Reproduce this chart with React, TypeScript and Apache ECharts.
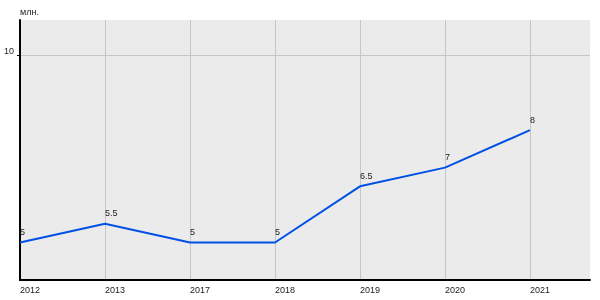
import React, { useEffect, useRef } from "react";
import * as echarts from "echarts";

const categories = ["2012", "2013", "2017", "2018", "2019", "2020", "2021"];
const values = [5, 5.5, 5, 5, 6.5, 7, 8];
const yTicks = [10];
const yUnit = "млн.";

const FONT = "Liberation Sans, Arial, sans-serif";

export default function App() {
  const ref = useRef<HTMLDivElement>(null);
  useEffect(() => {
    if (!ref.current) return;
    const chart = echarts.init(ref.current, null, { renderer: "svg" });
    const idx = categories.map((_, i) => i);
    chart.setOption({
      animation: false,
      textStyle: { fontFamily: FONT },
      grid: {
        left: 20,
        right: 10,
        top: 20,
        bottom: 20,
        show: true,
        backgroundColor: "#ebebeb",
        borderWidth: 0,
      },
      graphic: [
        {
          type: "text",
          left: 20,
          top: 7,
          style: { text: yUnit, fontSize: 9, fill: "#222", fontFamily: FONT },
        },
      ],
      xAxis: {
        type: "value",
        min: 0,
        max: 6.706,
        axisLine: { show: true, lineStyle: { color: "#000", width: 2 } },
        axisTick: { show: false, customValues: idx },
        axisLabel: {
          customValues: idx,
          formatter: (v: number) => categories[Math.round(v)] ?? "",
          align: "left",
          color: "#222",
          fontSize: 9,
          margin: 5,
        },
        splitLine: { show: true, lineStyle: { color: "#c6c6c6", width: 1 } },
      },
      yAxis: {
        type: "value",
        min: 4,
        max: 10.94,
        axisLine: { show: true, onZero: false, lineStyle: { color: "#000", width: 2 } },
        axisTick: { show: true, customValues: yTicks, length: 3, lineStyle: { color: "#000" } },
        axisLabel: {
          customValues: yTicks,
          color: "#222",
          fontSize: 9,
          margin: 6,
          verticalAlign: "bottom",
          lineHeight: 9,
        },
        splitLine: { show: true, lineStyle: { color: "#c6c6c6", width: 1 } },
      },
      series: [
        {
          type: "line",
          data: values.map((v, i) => [i, v]),
          symbol: "circle",
          symbolSize: 2,
          showSymbol: true,
          showAllSymbol: true,
          itemStyle: { color: "transparent", borderWidth: 0 },
          lineStyle: { color: "#0050e6", width: 2 },
          label: {
            show: true,
            position: "top",
            distance: 5,
            align: "left",
            fontSize: 9,
            color: "#222",
          },
          labelLayout: { hideOverlap: false },
        },
      ],
    });
    return () => chart.dispose();
  }, []);
  return (
    <div
      ref={ref}
      style={{ position: "fixed", left: 0, top: 0, width: 600, height: 300 }}
    />
  );
}
